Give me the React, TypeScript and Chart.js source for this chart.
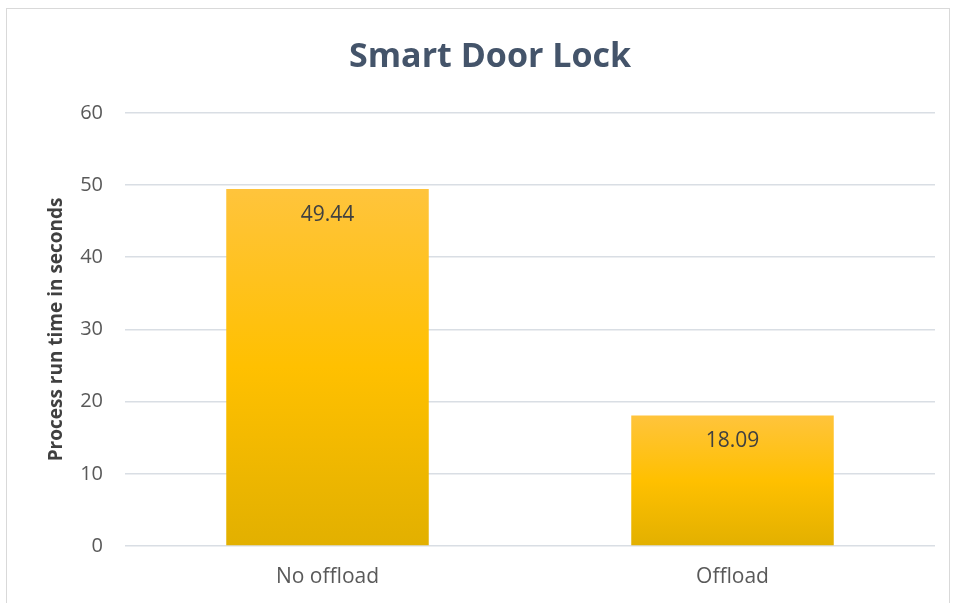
import React, { useEffect, useRef } from "react";
import { Chart, registerables } from "chart.js";

Chart.register(...registerables);

const categories = ["No offload", "Offload"];
const runTimes = [49.44, 18.09];
const valueLabels = ["49.44", "18.09"];
const chartTitle = "Smart Door Lock";
const yAxisTitle = "Process run time in seconds";

const FONT = "'Open Sans', sans-serif";

const barLabelPlugin = {
  id: "barLabels",
  afterDatasetsDraw(chart: any) {
    const ctx = chart.ctx;
    const meta = chart.getDatasetMeta(0);
    ctx.save();
    ctx.font = `21px ${FONT}`;
    ctx.fillStyle = "#404040";
    ctx.textAlign = "center";
    ctx.textBaseline = "middle";
    meta.data.forEach((bar: any, i: number) => {
      ctx.fillText(valueLabels[i], bar.x, bar.y + 26);
    });
    ctx.restore();
  },
};

export default function App() {
  const canvasRef = useRef<HTMLCanvasElement>(null);

  useEffect(() => {
    const canvas = canvasRef.current;
    if (!canvas) return;
    const chart = new Chart(canvas, {
      type: "bar",
      data: {
        labels: categories,
        datasets: [
          {
            data: runTimes,
            backgroundColor: (context: any) => {
              const c = context.chart;
              const { ctx, chartArea, scales } = c;
              if (!chartArea || !scales.y || context.parsed == null) return "#FFC000";
              const top = scales.y.getPixelForValue(context.parsed.y);
              const bottom = scales.y.getPixelForValue(0);
              const g = ctx.createLinearGradient(0, top, 0, bottom);
              g.addColorStop(0, "#FFC43C");
              g.addColorStop(0.5, "#FFC000");
              g.addColorStop(1, "#E2B000");
              return g;
            },
            borderWidth: 0,
            categoryPercentage: 1,
            barPercentage: 0.5,
          },
        ],
      },
      options: {
        animation: false,
        responsive: false,
        maintainAspectRatio: false,
        layout: { padding: { left: 45, right: 19, top: 0, bottom: 16 } },
        plugins: {
          legend: { display: false },
          tooltip: { enabled: false },
          title: {
            display: true,
            text: chartTitle,
            color: "#44546A",
            font: { family: FONT, size: 34, weight: "bold" },
            padding: { top: 37, bottom: 35 },
          },
        },
        scales: {
          x: {
            grid: { display: false, drawTicks: false },
            border: { display: false },
            afterFit: (scale: any) => {
              scale.height = 41;
            },
            ticks: {
              color: "#595959",
              font: { family: FONT, size: 21 },
              padding: 18,
            },
          },
          y: {
            min: 0,
            max: 60,
            afterFit: (scale: any) => {
              scale.width = 80;
            },
            grid: { color: "#D9DEE4", lineWidth: 1.5, drawTicks: false },
            border: { display: false },
            ticks: {
              stepSize: 10,
              color: "#595959",
              font: { family: FONT, size: 20 },
              padding: 22,
            },
            title: {
              display: true,
              text: yAxisTitle,
              color: "#404040",
              font: { family: FONT, size: 19, weight: "bold" },
              padding: { top: 0, bottom: 0 },
            },
          },
        },
      },
      plugins: [barLabelPlugin],
    });
    return () => chart.destroy();
  }, []);

  return (
    <div style={{ position: "fixed", left: 0, top: 0, width: 954, height: 603, background: "#fff" }}>
      <div
        style={{
          position: "absolute",
          left: 6,
          top: 8,
          width: 944,
          height: 600,
          border: "1px solid #D9D9D9",
          boxSizing: "border-box",
        }}
      />
      <canvas ref={canvasRef} width={954} height={603} style={{ position: "absolute", left: 0, top: 0 }} />
    </div>
  );
}
